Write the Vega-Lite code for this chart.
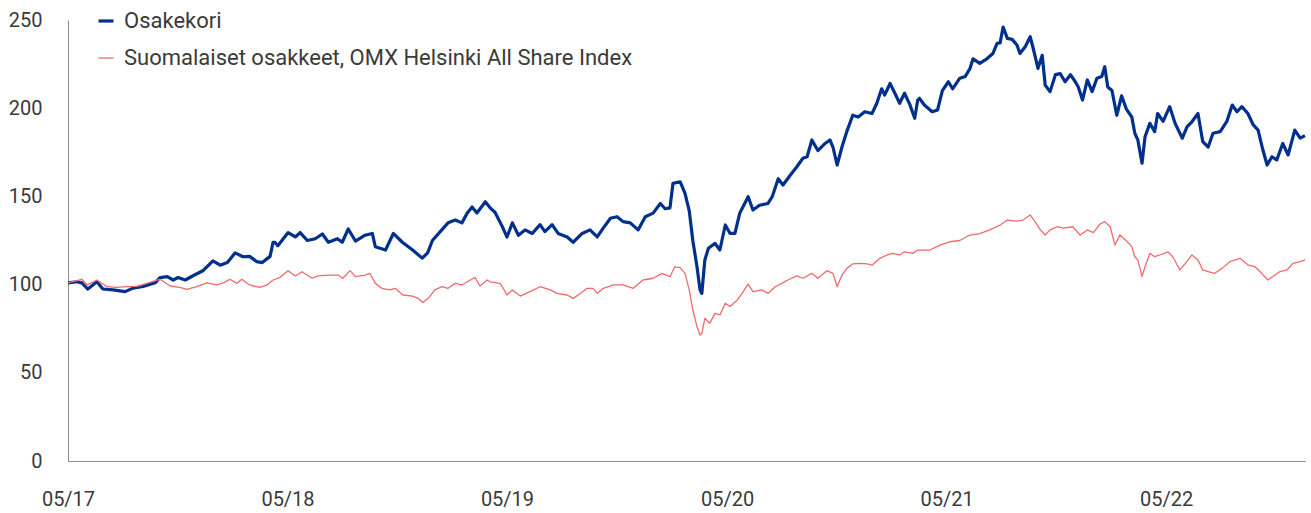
{
  "$schema": "https://vega.github.io/schema/vega-lite/v6.json",
  "width": 1237,
  "height": 441,
  "autosize": {"type": "none"},
  "padding": {"left": 68, "top": 20, "right": 6, "bottom": 52},
  "background": "white",
  "config": {
    "view": {"stroke": null},
    "font": "Roboto",
    "axis": {"domainColor": "#8c8c8c", "domainWidth": 1, "ticks": false, "grid": false, "labelFont": "Roboto", "labelFontSize": 20, "labelColor": "#3a3a3a", "title": null},
    "legend": {"labelFont": "Roboto", "labelFontSize": 22, "labelColor": "#3a3a3a", "labelLimit": 0}
  },
  "datasets": {
    "osakekori": [
      {"date": "2017-05-01", "value": 101}, {"date": "2017-05-16", "value": 101.6}, {"date": "2017-05-24", "value": 101}, {"date": "2017-06-03", "value": 97.5}, {"date": "2017-06-18", "value": 101.6}, {"date": "2017-06-28", "value": 97.5}, {"date": "2017-07-15", "value": 97}, {"date": "2017-08-04", "value": 96}, {"date": "2017-08-17", "value": 98}, {"date": "2017-09-03", "value": 99}, {"date": "2017-09-23", "value": 101}, {"date": "2017-10-01", "value": 104}, {"date": "2017-10-13", "value": 104.5}, {"date": "2017-10-23", "value": 102.6}, {"date": "2017-10-31", "value": 104}, {"date": "2017-11-12", "value": 102.6}, {"date": "2017-11-25", "value": 105}, {"date": "2017-12-12", "value": 108}, {"date": "2017-12-28", "value": 113.5},
      {"date": "2018-01-09", "value": 111}, {"date": "2018-01-21", "value": 112.5}, {"date": "2018-02-03", "value": 118}, {"date": "2018-02-16", "value": 115.8}, {"date": "2018-02-27", "value": 116}, {"date": "2018-03-11", "value": 113}, {"date": "2018-03-20", "value": 112.5}, {"date": "2018-04-02", "value": 116}, {"date": "2018-04-07", "value": 124}, {"date": "2018-04-10", "value": 124}, {"date": "2018-04-15", "value": 122}, {"date": "2018-05-02", "value": 129.5}, {"date": "2018-05-14", "value": 127}, {"date": "2018-05-22", "value": 129.5}, {"date": "2018-06-03", "value": 125}, {"date": "2018-06-16", "value": 126}, {"date": "2018-06-28", "value": 128.7}, {"date": "2018-07-08", "value": 124}, {"date": "2018-07-23", "value": 126}, {"date": "2018-07-31", "value": 124}, {"date": "2018-08-10", "value": 131.5}, {"date": "2018-08-22", "value": 124.7}, {"date": "2018-09-07", "value": 128}, {"date": "2018-09-19", "value": 129}, {"date": "2018-09-24", "value": 121.5}, {"date": "2018-10-11", "value": 119.6}, {"date": "2018-10-24", "value": 129}, {"date": "2018-11-08", "value": 124}, {"date": "2018-11-25", "value": 119.6}, {"date": "2018-12-11", "value": 115}, {"date": "2018-12-20", "value": 118}, {"date": "2018-12-28", "value": 125},
      {"date": "2019-01-10", "value": 130}, {"date": "2019-01-23", "value": 135}, {"date": "2019-02-04", "value": 136.6}, {"date": "2019-02-15", "value": 135}, {"date": "2019-02-24", "value": 140.6}, {"date": "2019-03-04", "value": 144}, {"date": "2019-03-12", "value": 140.6}, {"date": "2019-03-26", "value": 147}, {"date": "2019-04-03", "value": 143.5}, {"date": "2019-04-11", "value": 141}, {"date": "2019-04-23", "value": 133}, {"date": "2019-05-01", "value": 127}, {"date": "2019-05-10", "value": 135}, {"date": "2019-05-20", "value": 128}, {"date": "2019-05-31", "value": 131}, {"date": "2019-06-12", "value": 129}, {"date": "2019-06-25", "value": 134}, {"date": "2019-07-03", "value": 130}, {"date": "2019-07-15", "value": 134}, {"date": "2019-07-25", "value": 129}, {"date": "2019-08-09", "value": 127}, {"date": "2019-08-19", "value": 124}, {"date": "2019-09-03", "value": 129}, {"date": "2019-09-16", "value": 131}, {"date": "2019-09-28", "value": 127}, {"date": "2019-10-08", "value": 132}, {"date": "2019-10-20", "value": 137.6}, {"date": "2019-10-31", "value": 138.5}, {"date": "2019-11-10", "value": 135.7}, {"date": "2019-11-22", "value": 135}, {"date": "2019-12-05", "value": 131}, {"date": "2019-12-17", "value": 138.5}, {"date": "2019-12-30", "value": 140.5},
      {"date": "2020-01-11", "value": 146}, {"date": "2020-01-19", "value": 143}, {"date": "2020-01-27", "value": 143.5}, {"date": "2020-02-01", "value": 157.4}, {"date": "2020-02-13", "value": 158.3}, {"date": "2020-02-21", "value": 151.7}, {"date": "2020-02-28", "value": 142}, {"date": "2020-03-05", "value": 125}, {"date": "2020-03-12", "value": 110}, {"date": "2020-03-17", "value": 97}, {"date": "2020-03-20", "value": 95}, {"date": "2020-03-25", "value": 114}, {"date": "2020-03-31", "value": 120.6}, {"date": "2020-04-11", "value": 123.4}, {"date": "2020-04-19", "value": 119.6}, {"date": "2020-04-28", "value": 133.8}, {"date": "2020-05-06", "value": 129}, {"date": "2020-05-14", "value": 129}, {"date": "2020-05-22", "value": 140.4}, {"date": "2020-06-05", "value": 149.8}, {"date": "2020-06-13", "value": 142.3}, {"date": "2020-06-24", "value": 145}, {"date": "2020-07-08", "value": 146}, {"date": "2020-07-15", "value": 149.8}, {"date": "2020-07-25", "value": 160}, {"date": "2020-08-02", "value": 156.5}, {"date": "2020-08-14", "value": 162}, {"date": "2020-08-25", "value": 166.8}, {"date": "2020-09-04", "value": 171.6}, {"date": "2020-09-11", "value": 172.5}, {"date": "2020-09-19", "value": 182}, {"date": "2020-09-29", "value": 176}, {"date": "2020-10-11", "value": 180}, {"date": "2020-10-19", "value": 182}, {"date": "2020-10-24", "value": 178}, {"date": "2020-10-31", "value": 167.8}, {"date": "2020-11-08", "value": 178}, {"date": "2020-11-16", "value": 186.7}, {"date": "2020-11-26", "value": 196}, {"date": "2020-12-05", "value": 195}, {"date": "2020-12-16", "value": 198}, {"date": "2020-12-28", "value": 197},
      {"date": "2021-01-05", "value": 202.8}, {"date": "2021-01-13", "value": 211}, {"date": "2021-01-18", "value": 207.5}, {"date": "2021-01-27", "value": 214}, {"date": "2021-02-04", "value": 208.5}, {"date": "2021-02-12", "value": 202.8}, {"date": "2021-02-20", "value": 208.5}, {"date": "2021-03-01", "value": 202}, {"date": "2021-03-09", "value": 194.3}, {"date": "2021-03-14", "value": 204.6}, {"date": "2021-03-17", "value": 205.6}, {"date": "2021-03-25", "value": 201.8}, {"date": "2021-04-07", "value": 198}, {"date": "2021-04-16", "value": 199}, {"date": "2021-04-24", "value": 210}, {"date": "2021-05-04", "value": 215}, {"date": "2021-05-11", "value": 211}, {"date": "2021-05-23", "value": 217}, {"date": "2021-06-01", "value": 218}, {"date": "2021-06-09", "value": 222.6}, {"date": "2021-06-14", "value": 228}, {"date": "2021-06-25", "value": 225.4}, {"date": "2021-07-07", "value": 228}, {"date": "2021-07-17", "value": 231}, {"date": "2021-07-24", "value": 236.8}, {"date": "2021-07-29", "value": 237}, {"date": "2021-08-03", "value": 246}, {"date": "2021-08-10", "value": 239.6}, {"date": "2021-08-18", "value": 239}, {"date": "2021-08-26", "value": 235.8}, {"date": "2021-08-31", "value": 231}, {"date": "2021-09-09", "value": 235}, {"date": "2021-09-17", "value": 240.5}, {"date": "2021-09-22", "value": 234}, {"date": "2021-09-30", "value": 222.6}, {"date": "2021-10-07", "value": 230}, {"date": "2021-10-12", "value": 213}, {"date": "2021-10-20", "value": 209.4}, {"date": "2021-10-29", "value": 219}, {"date": "2021-11-06", "value": 219.6}, {"date": "2021-11-14", "value": 215}, {"date": "2021-11-23", "value": 219}, {"date": "2021-12-01", "value": 215}, {"date": "2021-12-06", "value": 212}, {"date": "2021-12-13", "value": 204.6}, {"date": "2021-12-21", "value": 216}, {"date": "2021-12-29", "value": 209.4},
      {"date": "2022-01-06", "value": 217}, {"date": "2022-01-14", "value": 218}, {"date": "2022-01-19", "value": 223.5}, {"date": "2022-01-24", "value": 212}, {"date": "2022-01-31", "value": 210}, {"date": "2022-02-08", "value": 196}, {"date": "2022-02-16", "value": 207}, {"date": "2022-02-24", "value": 199.5}, {"date": "2022-03-05", "value": 195}, {"date": "2022-03-10", "value": 185.8}, {"date": "2022-03-15", "value": 182}, {"date": "2022-03-22", "value": 168.8}, {"date": "2022-03-27", "value": 183.8}, {"date": "2022-04-04", "value": 191.4}, {"date": "2022-04-12", "value": 186.7}, {"date": "2022-04-17", "value": 197}, {"date": "2022-04-26", "value": 192.5}, {"date": "2022-05-07", "value": 200.9}, {"date": "2022-05-16", "value": 191.4}, {"date": "2022-05-28", "value": 183}, {"date": "2022-06-05", "value": 189.5}, {"date": "2022-06-13", "value": 192.3}, {"date": "2022-06-23", "value": 197}, {"date": "2022-07-01", "value": 181}, {"date": "2022-07-10", "value": 178}, {"date": "2022-07-18", "value": 185.8}, {"date": "2022-07-30", "value": 186.7}, {"date": "2022-08-10", "value": 192.5}, {"date": "2022-08-19", "value": 201.8}, {"date": "2022-08-27", "value": 198}, {"date": "2022-09-04", "value": 200.9}, {"date": "2022-09-14", "value": 197}, {"date": "2022-09-23", "value": 190.5}, {"date": "2022-10-01", "value": 187.6}, {"date": "2022-10-09", "value": 176.3}, {"date": "2022-10-16", "value": 167.8}, {"date": "2022-10-24", "value": 172.5}, {"date": "2022-11-01", "value": 170.6}, {"date": "2022-11-11", "value": 180}, {"date": "2022-11-20", "value": 173.5}, {"date": "2022-12-01", "value": 187.6}, {"date": "2022-12-10", "value": 183}, {"date": "2022-12-18", "value": 184.5}
    ],
    "omx": [
      {"date": "2017-05-01", "value": 101}, {"date": "2017-05-24", "value": 103}, {"date": "2017-06-02", "value": 99.8}, {"date": "2017-06-18", "value": 102.6}, {"date": "2017-07-05", "value": 98.8}, {"date": "2017-07-21", "value": 98.4}, {"date": "2017-08-07", "value": 98.8}, {"date": "2017-08-24", "value": 99}, {"date": "2017-09-09", "value": 100.7}, {"date": "2017-09-26", "value": 102.6}, {"date": "2017-10-01", "value": 103}, {"date": "2017-10-18", "value": 99.2}, {"date": "2017-11-03", "value": 98.4}, {"date": "2017-11-15", "value": 97.3}, {"date": "2017-12-01", "value": 98.8}, {"date": "2017-12-18", "value": 101},
      {"date": "2018-01-04", "value": 99.8}, {"date": "2018-01-14", "value": 101}, {"date": "2018-01-25", "value": 103}, {"date": "2018-02-06", "value": 100.7}, {"date": "2018-02-14", "value": 103}, {"date": "2018-02-27", "value": 99.8}, {"date": "2018-03-16", "value": 98.4}, {"date": "2018-03-28", "value": 99.8}, {"date": "2018-04-07", "value": 102.6}, {"date": "2018-04-18", "value": 104}, {"date": "2018-05-02", "value": 107.9}, {"date": "2018-05-14", "value": 104.9}, {"date": "2018-05-25", "value": 107.3}, {"date": "2018-06-11", "value": 103.6}, {"date": "2018-06-21", "value": 104.9}, {"date": "2018-07-08", "value": 105.4}, {"date": "2018-07-24", "value": 105.4}, {"date": "2018-08-01", "value": 103.6}, {"date": "2018-08-13", "value": 107.9}, {"date": "2018-08-22", "value": 104.5}, {"date": "2018-09-07", "value": 105.4}, {"date": "2018-09-15", "value": 106.4}, {"date": "2018-09-24", "value": 100.7}, {"date": "2018-10-05", "value": 97.9}, {"date": "2018-10-19", "value": 97}, {"date": "2018-10-27", "value": 97.9}, {"date": "2018-11-09", "value": 94.1}, {"date": "2018-11-25", "value": 93.5}, {"date": "2018-12-04", "value": 92.2}, {"date": "2018-12-12", "value": 89.8}, {"date": "2018-12-21", "value": 92.2},
      {"date": "2019-01-01", "value": 97}, {"date": "2019-01-13", "value": 98.8}, {"date": "2019-01-23", "value": 97.9}, {"date": "2019-02-04", "value": 100.7}, {"date": "2019-02-15", "value": 99.8}, {"date": "2019-02-24", "value": 101.6}, {"date": "2019-03-09", "value": 104}, {"date": "2019-03-17", "value": 99.2}, {"date": "2019-03-29", "value": 102.6}, {"date": "2019-04-03", "value": 101.6}, {"date": "2019-04-20", "value": 100.7}, {"date": "2019-05-01", "value": 94.1}, {"date": "2019-05-10", "value": 97}, {"date": "2019-05-23", "value": 93.5}, {"date": "2019-06-08", "value": 96}, {"date": "2019-06-25", "value": 98.8}, {"date": "2019-07-12", "value": 97}, {"date": "2019-07-23", "value": 95}, {"date": "2019-08-09", "value": 94.1}, {"date": "2019-08-19", "value": 92.2}, {"date": "2019-08-31", "value": 95}, {"date": "2019-09-11", "value": 97.9}, {"date": "2019-09-21", "value": 97.9}, {"date": "2019-09-28", "value": 95}, {"date": "2019-10-08", "value": 97.9}, {"date": "2019-10-25", "value": 99.8}, {"date": "2019-11-10", "value": 99.8}, {"date": "2019-11-27", "value": 97.9}, {"date": "2019-12-13", "value": 102.6}, {"date": "2019-12-30", "value": 103.6},
      {"date": "2020-01-14", "value": 106.4}, {"date": "2020-01-27", "value": 104.5}, {"date": "2020-02-04", "value": 110.1}, {"date": "2020-02-13", "value": 109.6}, {"date": "2020-02-21", "value": 106.4}, {"date": "2020-02-28", "value": 97}, {"date": "2020-03-05", "value": 85.6}, {"date": "2020-03-12", "value": 76.1}, {"date": "2020-03-17", "value": 71.4}, {"date": "2020-03-20", "value": 72.4}, {"date": "2020-03-25", "value": 80.9}, {"date": "2020-04-02", "value": 78}, {"date": "2020-04-11", "value": 83.7}, {"date": "2020-04-19", "value": 82.8}, {"date": "2020-04-28", "value": 89.4}, {"date": "2020-05-06", "value": 87.6}, {"date": "2020-05-18", "value": 91.3}, {"date": "2020-05-26", "value": 95}, {"date": "2020-06-05", "value": 100.3}, {"date": "2020-06-13", "value": 96}, {"date": "2020-06-28", "value": 97}, {"date": "2020-07-08", "value": 95}, {"date": "2020-07-20", "value": 98.8}, {"date": "2020-07-31", "value": 100.7}, {"date": "2020-08-10", "value": 102.6}, {"date": "2020-08-25", "value": 104.9}, {"date": "2020-09-04", "value": 103.6}, {"date": "2020-09-19", "value": 106.4}, {"date": "2020-09-29", "value": 103.6}, {"date": "2020-10-14", "value": 107.9}, {"date": "2020-10-24", "value": 106.4}, {"date": "2020-10-31", "value": 98.8}, {"date": "2020-11-08", "value": 105.4}, {"date": "2020-11-16", "value": 109.2}, {"date": "2020-11-26", "value": 111.7}, {"date": "2020-12-08", "value": 112}, {"date": "2020-12-20", "value": 111.7}, {"date": "2020-12-28", "value": 111},
      {"date": "2021-01-10", "value": 114.9}, {"date": "2021-01-22", "value": 116.8}, {"date": "2021-02-01", "value": 117.7}, {"date": "2021-02-12", "value": 116.8}, {"date": "2021-02-20", "value": 118.6}, {"date": "2021-03-06", "value": 117.7}, {"date": "2021-03-14", "value": 119.6}, {"date": "2021-04-03", "value": 119.6}, {"date": "2021-04-20", "value": 122.4}, {"date": "2021-05-07", "value": 124.3}, {"date": "2021-05-23", "value": 125}, {"date": "2021-06-09", "value": 128.1}, {"date": "2021-06-25", "value": 128.9}, {"date": "2021-07-12", "value": 131}, {"date": "2021-07-29", "value": 133.8}, {"date": "2021-08-10", "value": 136.6}, {"date": "2021-08-26", "value": 136}, {"date": "2021-09-05", "value": 136.6}, {"date": "2021-09-17", "value": 139.5}, {"date": "2021-09-25", "value": 135.7}, {"date": "2021-10-04", "value": 131}, {"date": "2021-10-12", "value": 128.1}, {"date": "2021-10-20", "value": 131}, {"date": "2021-11-01", "value": 132.8}, {"date": "2021-11-11", "value": 132}, {"date": "2021-11-27", "value": 132.8}, {"date": "2021-12-09", "value": 128.1}, {"date": "2021-12-21", "value": 131}, {"date": "2021-12-31", "value": 129.5},
      {"date": "2022-01-11", "value": 134.2}, {"date": "2022-01-19", "value": 135.7}, {"date": "2022-01-28", "value": 132.8}, {"date": "2022-02-05", "value": 122.4}, {"date": "2022-02-13", "value": 128.1}, {"date": "2022-02-24", "value": 124.8}, {"date": "2022-03-05", "value": 121.5}, {"date": "2022-03-10", "value": 115.8}, {"date": "2022-03-15", "value": 114}, {"date": "2022-03-22", "value": 104.5}, {"date": "2022-03-27", "value": 110.1}, {"date": "2022-04-04", "value": 117.7}, {"date": "2022-04-12", "value": 115.8}, {"date": "2022-04-24", "value": 117.2}, {"date": "2022-05-04", "value": 118.6}, {"date": "2022-05-12", "value": 115.8}, {"date": "2022-05-24", "value": 108.3}, {"date": "2022-06-02", "value": 112}, {"date": "2022-06-13", "value": 116.8}, {"date": "2022-06-23", "value": 114}, {"date": "2022-07-01", "value": 108.3}, {"date": "2022-07-10", "value": 107.3}, {"date": "2022-07-21", "value": 106.4}, {"date": "2022-08-02", "value": 109.2}, {"date": "2022-08-15", "value": 113}, {"date": "2022-09-01", "value": 114.9}, {"date": "2022-09-14", "value": 111.2}, {"date": "2022-09-26", "value": 110.1}, {"date": "2022-10-07", "value": 106.4}, {"date": "2022-10-17", "value": 102.6}, {"date": "2022-10-25", "value": 104.5}, {"date": "2022-11-06", "value": 107.3}, {"date": "2022-11-18", "value": 108.3}, {"date": "2022-11-28", "value": 112}, {"date": "2022-12-10", "value": 113}, {"date": "2022-12-18", "value": 114}
    ]
  },
  "encoding": {
    "x": {
      "field": "date", "type": "temporal",
      "scale": {"type": "utc", "domain": [{"year": 2017, "month": 5, "date": 1, "utc": true}, {"year": 2022, "month": 12, "date": 18, "utc": true}]},
      "axis": {
        "labelExpr": "utcFormat(datum.value, '%m/%y')", "labelPadding": 28, "labelFlush": false, "labelOverlap": false,
        "values": [
          {"year": 2017, "month": 5, "date": 1, "utc": true},
          {"year": 2018, "month": 5, "date": 1, "utc": true},
          {"year": 2019, "month": 5, "date": 1, "utc": true},
          {"year": 2020, "month": 5, "date": 1, "utc": true},
          {"year": 2021, "month": 5, "date": 1, "utc": true},
          {"year": 2022, "month": 5, "date": 1, "utc": true}
        ]
      }
    },
    "y": {
      "field": "value", "type": "quantitative",
      "scale": {"domain": [0, 250], "nice": false, "zero": true},
      "axis": {"values": [0, 50, 100, 150, 200, 250], "labelPadding": 26}
    }
  },
  "layer": [
    {
      "data": {"name": "osakekori"},
      "mark": {"type": "line", "strokeJoin": "round", "strokeCap": "butt"},
      "encoding": {
        "color": {
          "datum": "Osakekori",
          "scale": {"domain": ["Osakekori", "Suomalaiset osakkeet, OMX Helsinki All Share Index"], "range": ["#00308c", "#f06a6c"]},
          "legend": {"title": null, "orient": "none", "legendX": 27, "legendY": -10, "symbolType": "stroke", "symbolSize": 225, "rowPadding": 15, "labelOffset": 7, "padding": 0, "labelLimit": 0}
        },
        "strokeWidth": {
          "datum": "Osakekori",
          "scale": {"domain": ["Osakekori", "Suomalaiset osakkeet, OMX Helsinki All Share Index"], "range": [3.2, 1.3]},
          "legend": {"title": null, "orient": "none", "legendX": 27, "legendY": -10, "symbolType": "stroke", "symbolSize": 225, "rowPadding": 15, "labelOffset": 7, "padding": 0, "labelLimit": 0}
        }
      }
    },
    {
      "data": {"name": "omx"},
      "mark": {"type": "line", "strokeJoin": "round", "strokeCap": "butt"},
      "encoding": {
        "color": {"datum": "Suomalaiset osakkeet, OMX Helsinki All Share Index"},
        "strokeWidth": {"datum": "Suomalaiset osakkeet, OMX Helsinki All Share Index"}
      }
    }
  ]
}
